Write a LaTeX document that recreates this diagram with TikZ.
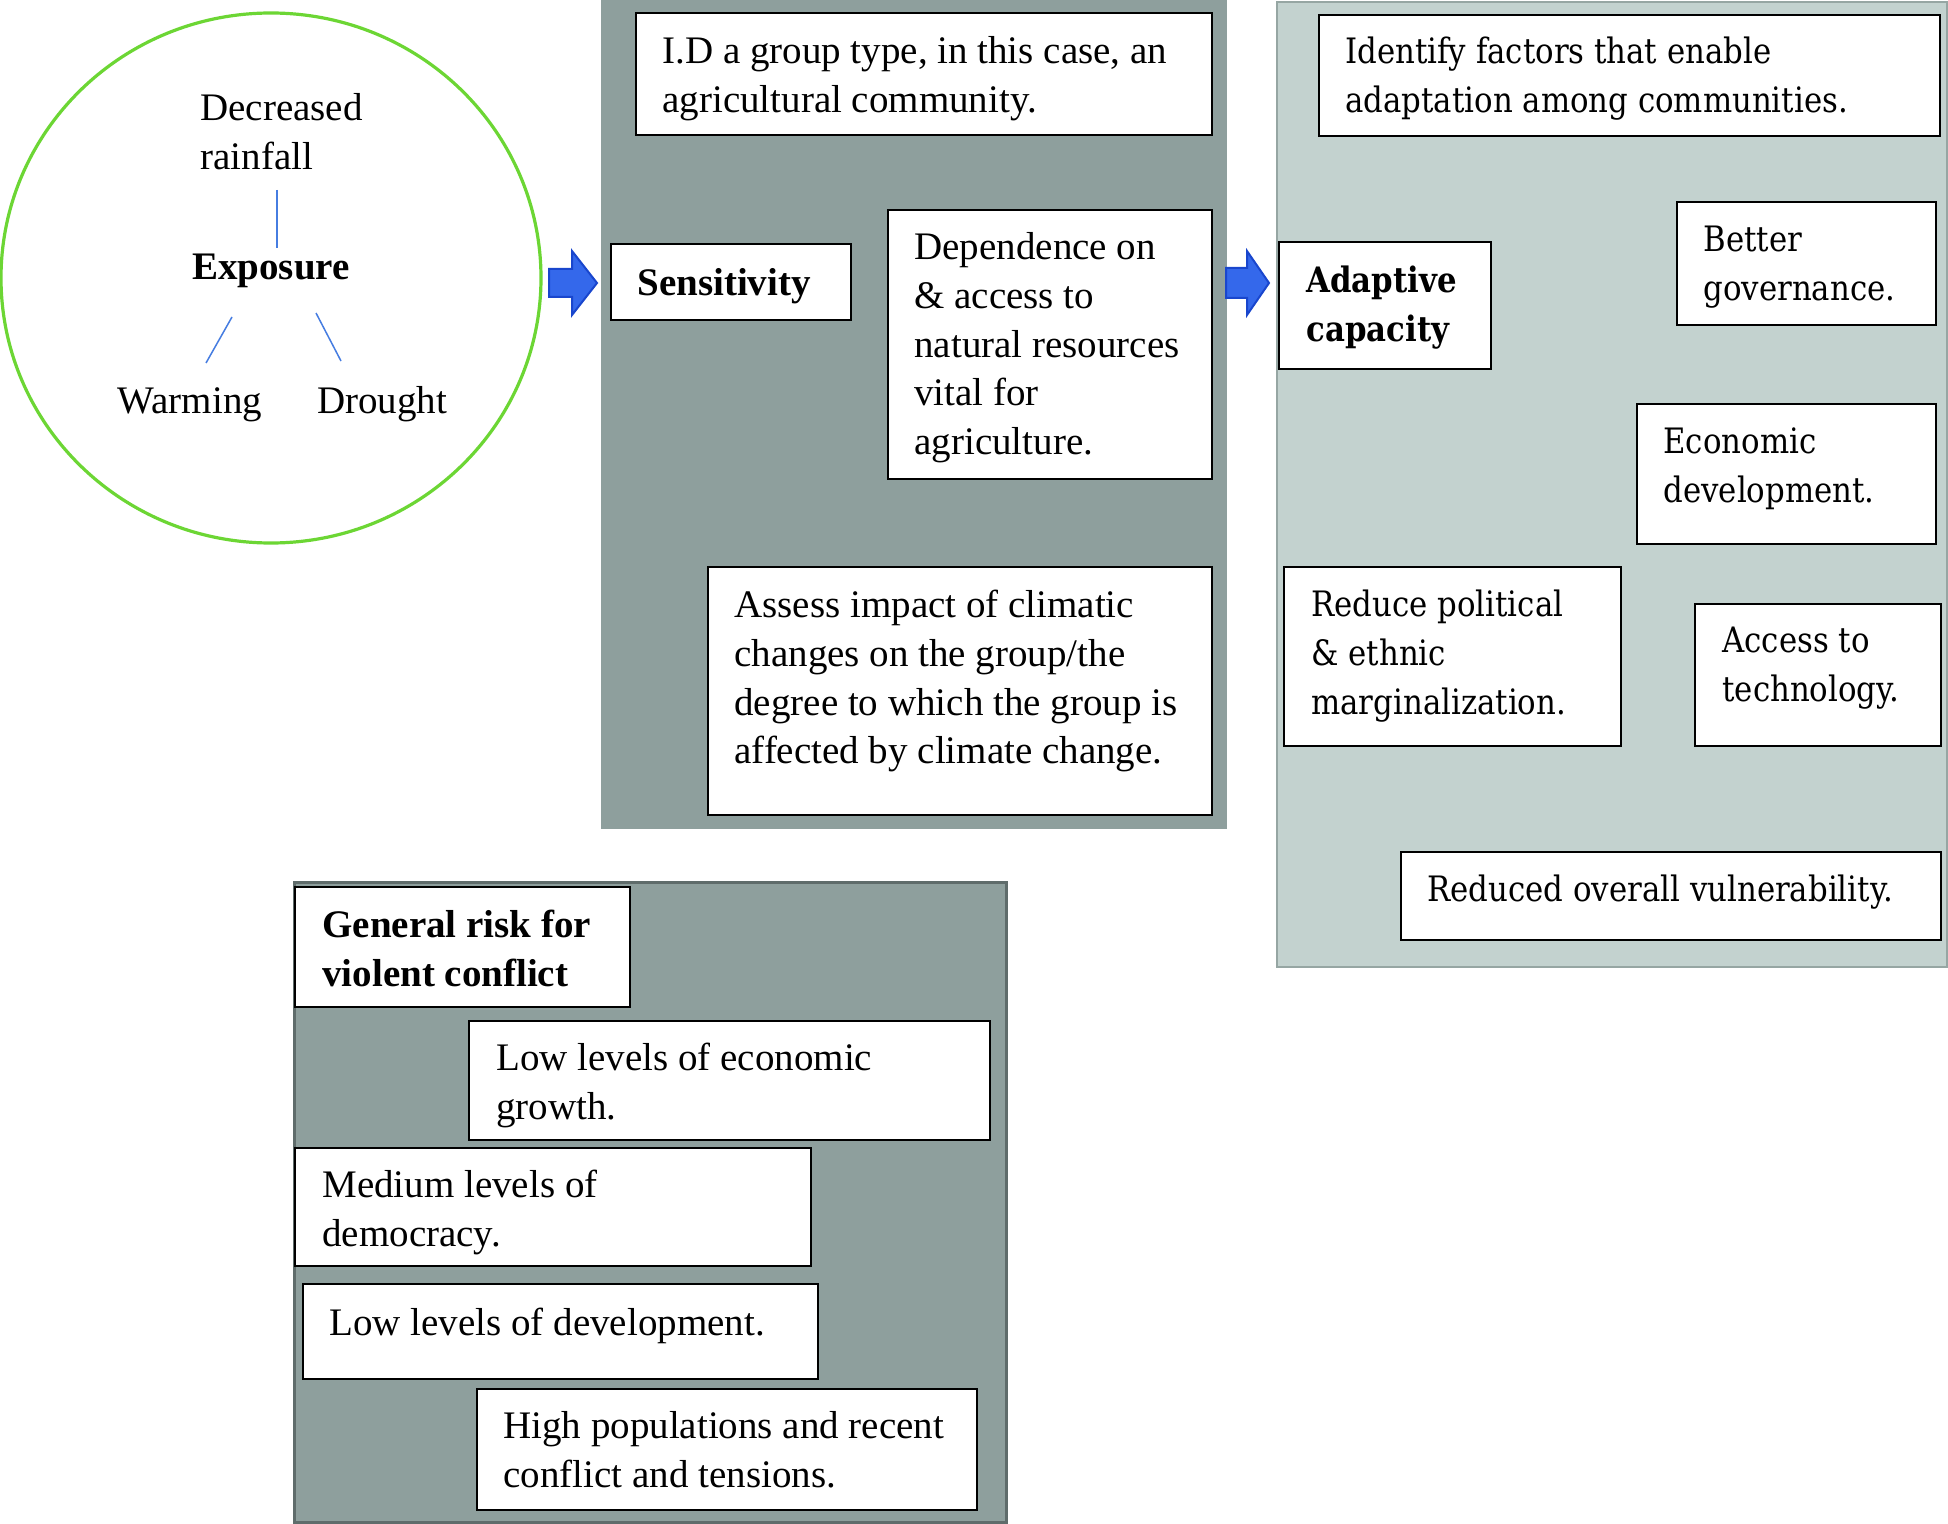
\documentclass[tikz,border=0pt]{standalone}
\usepackage{fontspec}
\usetikzlibrary{shapes.geometric}
\newfontfamily\tnr{Liberation Serif}
\newfontfamily\dvs{DejaVu Serif}[FakeStretch=0.88]
\definecolor{sensgray}{RGB}{142,159,157}
\definecolor{adaptgray}{RGB}{195,210,207}
\definecolor{adaptedge}{RGB}{150,166,163}
\definecolor{riskedge}{RGB}{95,108,107}
\definecolor{arrowblue}{RGB}{52,104,235}
\definecolor{arrowedge}{RGB}{25,70,205}
\definecolor{circgreen}{RGB}{108,214,52}
\definecolor{linkblue}{RGB}{70,125,225}
\tikzset{
  box/.style={draw=black, line width=1pt, fill=white, inner sep=0pt, anchor=north west},
  tt/.style={font=\tnr\fontsize{19.5}{24.4}\selectfont, inner sep=0pt, anchor=north west, align=left},
  ttb/.style={font=\tnr\bfseries\fontsize{19.5}{24.4}\selectfont, inner sep=0pt, align=left},
  lt/.style={font=\dvs\fontsize{17.5}{24.4}\selectfont, inner sep=0pt, anchor=north west, align=left},
  ltb/.style={font=\dvs\bfseries\fontsize{17.5}{24.4}\selectfont, inner sep=0pt, anchor=north west, align=left},
  link/.style={draw=linkblue, line width=0.75pt},
  bigarrow/.style={fill=arrowblue, draw=arrowedge, line width=1pt, line join=miter}
}
\begin{document}
\begin{tikzpicture}[x=0.5pt,y=-0.5pt]
\useasboundingbox (0,0) rectangle (1948,1524);

% ---------- Exposure circle ----------
\node[draw=circgreen, line width=1.6pt, fill=white, ellipse, minimum width=270pt, minimum height=265pt, inner sep=0pt] (expcircle) at (271,278) {};
\node[tt] (rain) at (200,86) {\strut Decreased\\rainfall};
\node[ttb, anchor=base] (expo) at (271,280) {Exposure};
\node[tt, anchor=base] (warm) at (190,414) {Warming};
\node[tt, anchor=base] (drought) at (382,414) {Drought};
\coordinate (l1a) at (277,190); \coordinate (l1b) at (277,248);
\coordinate (l2a) at (232,317); \coordinate (l2b) at (206,363);
\coordinate (l3a) at (316,313); \coordinate (l3b) at (341,361);
\draw[link] (l1a) -- (l1b);
\draw[link] (l2a) -- (l2b);
\draw[link] (l3a) -- (l3b);

% ---------- arrow 1 ----------
\draw[bigarrow] (549,269) -- (572,269) -- (572,251) -- (597,283) -- (572,315) -- (572,297) -- (549,297) -- cycle;

% ---------- Sensitivity panel ----------
\fill[sensgray] (601,0) rectangle (1227,829);
\node[box, minimum width=288pt, minimum height=61pt] (idbox) at (635,12) {};
\node[tt] (idtxt) at (662,29) {\strut I.D a group type, in this case, an\\agricultural community.};
\node[box, minimum width=120pt, minimum height=38pt] (sensbox) at (610,243) {};
\node[ttb, anchor=base west] (senstxt) at (637,296) {Sensitivity};
\node[box, minimum width=162pt, minimum height=134.5pt] (depbox) at (887,209) {};
\node[tt] (deptxt) at (914,225) {\strut Dependence on\\\& access to\\natural resources\\vital for\\agriculture.};
\node[box, minimum width=252pt, minimum height=124pt] (assbox) at (707,566) {};
\node[tt] (asstxt) at (734,583) {\strut Assess impact of climatic\\changes on the group/the\\degree to which the group is\\affected by climate change.};

% ---------- arrow 2 ----------
\draw[bigarrow] (1226,268) -- (1247,268) -- (1247,251) -- (1269,283) -- (1247,315) -- (1247,298) -- (1226,298) -- cycle;

% ---------- Adaptive capacity panel ----------
\filldraw[fill=adaptgray, draw=adaptedge, line width=1pt] (1277,2) rectangle (1947,967);
\node[box, minimum width=310.5pt, minimum height=60.5pt] (identbox) at (1318,14) {};
\node[lt] (identtxt) at (1345,29) {\strut Identify factors that enable\\adaptation among communities.};
\node[box, minimum width=106pt, minimum height=63.5pt] (adaptbox) at (1278,241) {};
\node[ltb] (adapttxt) at (1306,258) {\strut Adaptive\\capacity};
\node[box, minimum width=129.5pt, minimum height=61.5pt] (govbox) at (1676,201) {};
\node[lt] (govtxt) at (1703,217) {\strut Better\\governance.};
\node[box, minimum width=149.5pt, minimum height=70pt] (econbox) at (1636,403) {};
\node[lt] (econtxt) at (1663,419) {\strut Economic\\development.};
\node[box, minimum width=168.5pt, minimum height=89.5pt] (polbox) at (1283,566) {};
\node[lt] (poltxt) at (1311,582) {\strut Reduce political\\\& ethnic\\marginalization.};
\node[box, minimum width=123pt, minimum height=71pt] (techbox) at (1694,603) {};
\node[lt] (techtxt) at (1722,618) {\strut Access to\\technology.};
\node[box, minimum width=270pt, minimum height=44pt] (vulbox) at (1400,851) {};
\node[lt, anchor=base west] (vultxt) at (1427,901) {Reduced overall vulnerability.};

% ---------- General risk panel ----------
\filldraw[fill=sensgray, draw=riskedge, line width=1.5pt] (294,882) rectangle (1006,1522);
\node[box, minimum width=167.5pt, minimum height=60pt] (riskbox) at (294,886) {};
\node[ttb, anchor=north west] (risktxt) at (322,903) {\strut General risk for\\violent conflict};
\node[box, minimum width=260.5pt, minimum height=59.5pt] (growbox) at (468,1020) {};
\node[tt] (growtxt) at (496,1036) {\strut Low levels of economic\\growth.};
\node[box, minimum width=258pt, minimum height=59pt] (dembox) at (294,1147) {};
\node[tt] (demtxt) at (322,1163) {\strut Medium levels of\\democracy.};
\node[box, minimum width=257.5pt, minimum height=47.5pt] (devbox) at (302,1283) {};
\node[tt] (devtxt) at (329,1301) {\strut Low levels of development.};
\node[box, minimum width=250pt, minimum height=60.5pt] (popbox) at (476,1388) {};
\node[tt] (poptxt) at (503,1404) {\strut High populations and recent\\conflict and tensions.};
\end{tikzpicture}
\end{document}
